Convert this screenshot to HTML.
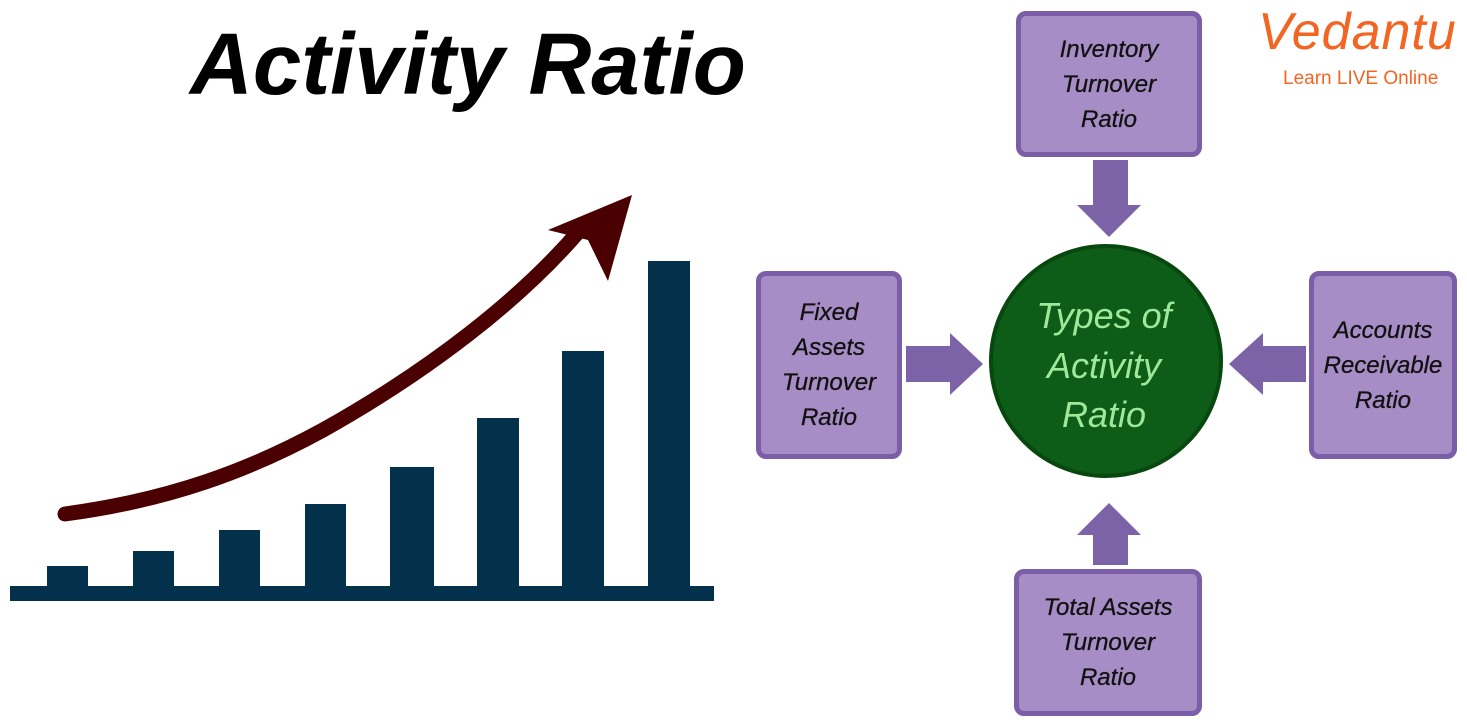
<!DOCTYPE html>
<html><head><style>
body{margin:0;width:1467px;height:727px;background:#fff;overflow:hidden;position:relative;font-family:"Liberation Sans",sans-serif}
.box{position:absolute;background:#a78dc6;border:5px solid #7b5ea7;border-radius:10px;box-sizing:border-box;display:flex;align-items:center;justify-content:center;text-align:center;font-style:italic;font-size:24px;line-height:35px;color:#111;-webkit-text-stroke:0.3px #111}
</style></head><body>
<div style="position:absolute;left:190px;top:10px;font-size:87px;font-weight:bold;font-style:italic;color:#000;line-height:110px">Activity Ratio</div>
<svg width="1467" height="727" style="position:absolute;left:0;top:0">
<g fill="#03314b">
<rect x="10" y="586" width="704" height="15"/>
<rect x="47" y="566" width="41" height="22"/>
<rect x="133" y="551" width="41" height="37"/>
<rect x="219" y="530" width="41" height="58"/>
<rect x="305" y="504" width="41" height="84"/>
<rect x="390" y="467" width="44" height="121"/>
<rect x="477" y="418" width="42" height="170"/>
<rect x="562" y="351" width="42" height="237"/>
<rect x="648" y="261" width="42" height="327"/>
</g>
<path d="M65 514 C170 500 250 470 323 430 C430 370 520 300 580 230" stroke="#4a0000" stroke-width="15" fill="none" stroke-linecap="round"/>
<polygon points="548,230 632,195 608,281 588,240" fill="#4a0000"/>
<g fill="#7c62a6">
<polygon points="906,346 950,346 950,333 983,364 950,395 950,382 906,382"/>
<polygon points="1306,346 1263,346 1263,333 1229,364 1263,395 1263,382 1306,382"/>
<polygon points="1093,160 1128,160 1128,205 1141,205 1109,237 1077,205 1093,205"/>
<polygon points="1093,565 1128,565 1128,535 1141,535 1109,503 1077,535 1093,535"/>
</g>
<circle cx="1106" cy="361" r="115" fill="#0d5c17" stroke="#07480f" stroke-width="4"/>
<text font-family="Liberation Sans" font-style="italic" font-size="36" fill="#9fe89a" text-anchor="middle"><tspan x="1104" y="328">Types of</tspan><tspan x="1104" y="378">Activity</tspan><tspan x="1104" y="427">Ratio</tspan></text>
</svg>
<div class="box" style="left:1016px;top:11px;width:186px;height:146px">Inventory<br>Turnover<br>Ratio</div>
<div class="box" style="left:756px;top:271px;width:146px;height:188px">Fixed<br>Assets<br>Turnover<br>Ratio</div>
<div class="box" style="left:1309px;top:271px;width:148px;height:188px">Accounts<br>Receivable<br>Ratio</div>
<div class="box" style="left:1014px;top:569px;width:188px;height:147px">Total Assets<br>Turnover<br>Ratio</div>
<div style="position:absolute;left:1258px;top:2px;font-size:52px;color:#f26522;font-style:italic;letter-spacing:1px">Vedantu</div>
<div style="position:absolute;left:1283px;top:68px;font-size:19px;color:#f26522">Learn LIVE Online</div>
</body></html>
